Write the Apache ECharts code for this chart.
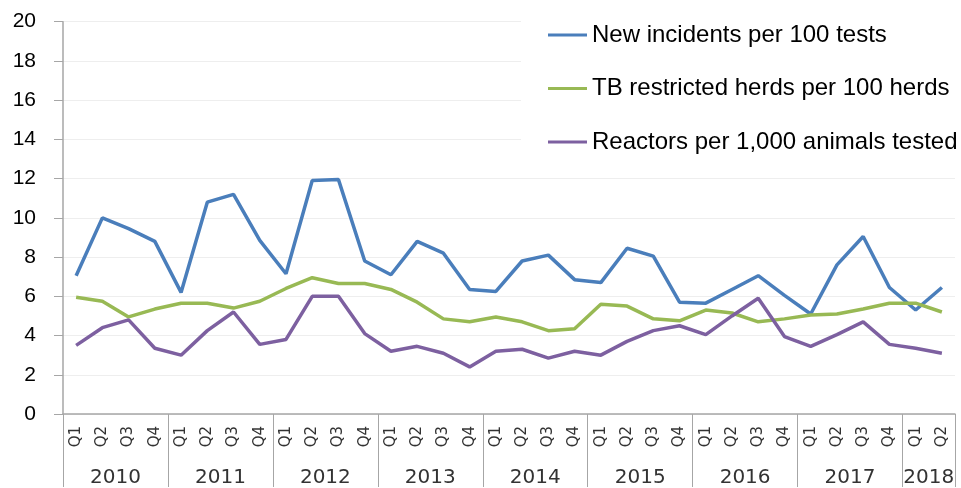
<!DOCTYPE html>
<html>
<head>
<meta charset="utf-8">
<script src="https://cdn.jsdelivr.net/npm/echarts@6/dist/echarts.min.js"></script>
<style>
html, body { margin: 0; padding: 0; background: #fff; }
#chart { width: 961px; height: 488px; }
</style>
</head>
<body>
<div id="chart"></div>
<script>
// quarters from 2010 Q1 to 2018 Q2
var years = ['2010', '2011', '2012', '2013', '2014', '2015', '2016', '2017', '2018'];
var quartersPerYear = [4, 4, 4, 4, 4, 4, 4, 4, 2];
var quarterNames = ['Q1', 'Q2', 'Q3', 'Q4'];

var newIncidents = [7.05, 10.0, 9.45, 8.8, 6.2, 10.8, 11.2, 8.85, 7.15, 11.9, 11.95, 7.8, 7.1, 8.8, 8.2, 6.35, 6.25,
  7.8, 8.1, 6.85, 6.7, 8.45, 8.05, 5.7, 5.65, 6.35, 7.05, 6.05, 5.1, 7.6, 9.05, 6.45, 5.3, 6.45];
var restrictedHerds = [5.95, 5.75, 4.95, 5.35, 5.65, 5.65, 5.4, 5.75, 6.4, 6.95, 6.65, 6.65, 6.35, 5.7, 4.85, 4.7, 4.95,
  4.7, 4.25, 4.35, 5.6, 5.5, 4.85, 4.75, 5.3, 5.15, 4.7, 4.85, 5.05, 5.1, 5.35, 5.65, 5.65, 5.2];
var reactors = [3.5, 4.4, 4.8, 3.35, 3.0, 4.25, 5.2, 3.55, 3.8, 6.0, 6.0, 4.1, 3.2, 3.45, 3.1, 2.4, 3.2,
  3.3, 2.85, 3.2, 3.0, 3.7, 4.25, 4.5, 4.05, 5.0, 5.9, 3.95, 3.45, 4.05, 4.7, 3.55, 3.35, 3.1];

// build quarter labels and the half-step axis used for year labels/separators
var quarterLabels = [];
var halfLabels = [];
var boundaries = {};
var yearMid = {};
var start = 0;
years.forEach(function (y, k) {
  var n = quartersPerYear[k];
  for (var q = 0; q < n; q++) quarterLabels.push(quarterNames[q]);
  boundaries[2 * start] = true;
  yearMid[2 * start + n] = y;
  start += n;
});
boundaries[2 * start] = true;
for (var i = 0; i <= 2 * start; i++) halfLabels.push(yearMid[i] || '');

var myChart = echarts.init(document.getElementById('chart'));

var option = {
  animation: false,
  grid: { left: 63, right: 6, top: 21.7, bottom: 73, containLabel: false },
  legend: {
    orient: 'vertical',
    left: 521,
    top: 12,
    padding: [10, 10, 10, 27],
    backgroundColor: '#fff',
    itemGap: 27.5,
    icon: 'rect',
    itemWidth: 39,
    itemHeight: 3,
    textStyle: { fontFamily: 'Liberation Sans', fontSize: 24, color: '#000', lineHeight: 26 },
    data: ['New incidents per 100 tests', 'TB restricted herds per 100 herds', 'Reactors per 1,000 animals tested']
  },
  xAxis: [
    {
      type: 'category',
      position: 'bottom',
      data: quarterLabels,
      boundaryGap: true,
      axisLine: { lineStyle: { color: '#a6a6a6', width: 1.5 } },
      axisTick: { interval: 0, length: 38, lineStyle: { color: '#a6a6a6' } },
      axisLabel: {
        interval: 0, rotate: 90, margin: 12,
        fontFamily: 'DejaVu Sans', fontSize: 15, color: '#333'
      },
      splitLine: { show: false }
    },
    {
      type: 'category',
      position: 'bottom',
      data: halfLabels,
      boundaryGap: false,
      axisLine: { show: false },
      axisTick: {
        length: 73,
        interval: function (idx) { return !!boundaries[idx]; },
        lineStyle: { color: '#a6a6a6' }
      },
      axisLabel: {
        interval: function (idx) { return !!yearMid[idx]; },
        margin: 54,
        fontFamily: 'DejaVu Sans', fontSize: 20, color: '#333'
      },
      splitLine: { show: false }
    }
  ],
  yAxis: {
    type: 'value',
    min: 0,
    max: 20,
    interval: 2,
    axisLine: { show: true, lineStyle: { color: '#a6a6a6', width: 1.5 } },
    axisTick: { show: true, length: 9, lineStyle: { color: '#a6a6a6' } },
    axisLabel: { margin: 27, fontFamily: 'Liberation Sans', fontSize: 21, color: '#000' },
    splitLine: { lineStyle: { color: '#eeeeee', width: 1 } }
  },
  series: [
    {
      name: 'New incidents per 100 tests', type: 'line', data: newIncidents,
      symbol: 'none', itemStyle: { color: '#4a7ebb' }, lineStyle: { width: 3.5, color: '#4a7ebb' }
    },
    {
      name: 'TB restricted herds per 100 herds', type: 'line', data: restrictedHerds,
      symbol: 'none', itemStyle: { color: '#98b954' }, lineStyle: { width: 3.5, color: '#98b954' }
    },
    {
      name: 'Reactors per 1,000 animals tested', type: 'line', data: reactors,
      symbol: 'none', itemStyle: { color: '#7d60a0' }, lineStyle: { width: 3.5, color: '#7d60a0' }
    }
  ]
};

myChart.setOption(option);

window.addEventListener('resize', function () {
  myChart.resize();
});
</script>
</body>
</html>
